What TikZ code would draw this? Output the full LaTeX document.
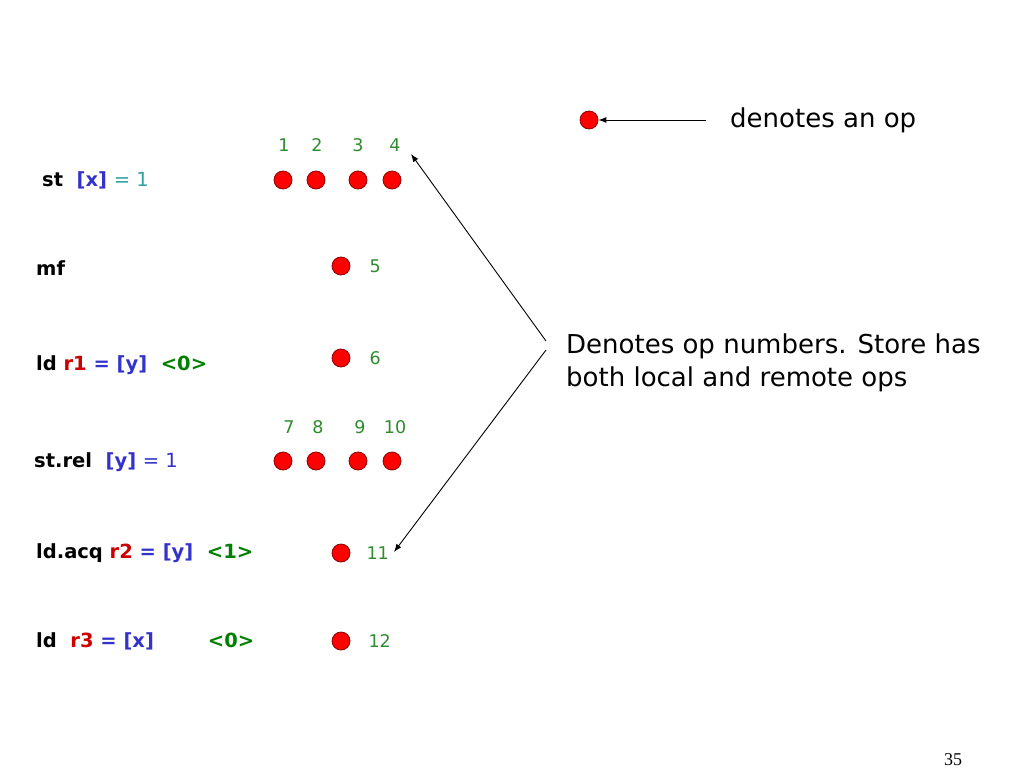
\documentclass[tikz,border=0pt]{standalone}
\usepackage{fontspec}
\setmainfont{DejaVu Sans}
\newfontfamily\pagefont{Liberation Serif}
\usetikzlibrary{arrows.meta,positioning}
\definecolor{opred}{HTML}{FF0000}
\definecolor{opedge}{HTML}{8B0000}
\definecolor{numgreen}{HTML}{2E8B2E}
\definecolor{valgreen}{HTML}{008000}
\definecolor{regred}{HTML}{CC0000}
\definecolor{locblue}{HTML}{3333CC}
\definecolor{valteal}{HTML}{33A0A0}
\tikzset{
  op/.style={circle, fill=opred, draw=opedge, line width=0.8pt, minimum size=18pt, inner sep=0pt},
  num/.style={text=numgreen, inner sep=1pt, font=\fontsize{17.5}{20}\selectfont},
  instr/.style={anchor=west, inner sep=0pt, font=\bfseries\fontsize{19.5}{24}\selectfont},
  note/.style={anchor=west, inner sep=0pt, align=left, font=\fontsize{26}{33}\selectfont},
  pointer/.style={-{Latex[length=8pt,width=6pt]}, line width=0.9pt},
}
\begin{document}
\begin{tikzpicture}[x=1pt, y=-1pt]
  \useasboundingbox (0,0) rectangle (1024,768);
  % instructions
  \node[instr] (i1) at (42,180) {st\ \ \textcolor{locblue}{[x]} \textcolor{valteal}{\mdseries = 1}};
  \node[instr] (i2) at (36,268) {mf};
  \node[instr] (i3) at (36,365) {ld \textcolor{regred}{r1} \textcolor{locblue}{= [y]}\ \ \textcolor{valgreen}{<0>}};
  \node[instr] (i4) at (34,462) {st.rel\ \ \textcolor{locblue}{[y] \mdseries = 1}};
  \node[instr] (i5) at (36,553) {ld.acq \textcolor{regred}{r2} \textcolor{locblue}{= [y]}\ \ \textcolor{valgreen}{<1>}};
  \node[instr] (i6) at (36,641) {ld\ \ \textcolor{regred}{r3} \textcolor{locblue}{= [x]}\hspace{54pt}\textcolor{valgreen}{<0>}};
  % ops
  \foreach \i/\x/\lx in {1/283/284, 2/316/317, 3/358/358, 4/392/395} {
    \node[op] (op\i) at (\x,180) {};
    \node[num] (n\i) at (\lx,145) {\i};
  }
  \foreach \i/\x/\lx in {7/283/289, 8/316/318, 9/358/360, 10/392/395} {
    \node[op] (op\i) at (\x,461) {};
    \node[num] (n\i) at (\lx,427) {\i};
  }
  \node[op] (op5) at (341,266) {};
  \node[num, right=18pt of op5] (n5) {5};
  \node[op] (op6) at (341,358) {};
  \node[num, right=18pt of op6] (n6) {6};
  \node[op] (op11) at (341,553) {};
  \node[num, right=15pt of op11] (n11) {11};
  \node[op] (op12) at (341,641) {};
  \node[num, right=17pt of op12] (n12) {12};
  % legend
  \node[op] (key) at (589,120) {};
  \node[note] (keytext) at (730,120) {denotes an op};
  \coordinate (keytail) at (706,120);
  \draw[pointer] (keytail) -- (key);
  % op number note
  \node[note] (numnote) at (566,363) {Denotes op numbers. Store has\\both local and remote ops};
  \coordinate (tail1) at (546,341);
  \coordinate (tail2) at (546,350);
  \coordinate (tip4) at (411,154);
  \coordinate (tip11) at (394,552);
  \draw[pointer] (tail1) -- (tip4);
  \draw[pointer] (tail2) -- (tip11);
  % slide number
  \node[font=\pagefont\fontsize{18}{20}\selectfont] (page) at (953,760) {35};
\end{tikzpicture}
\end{document}
